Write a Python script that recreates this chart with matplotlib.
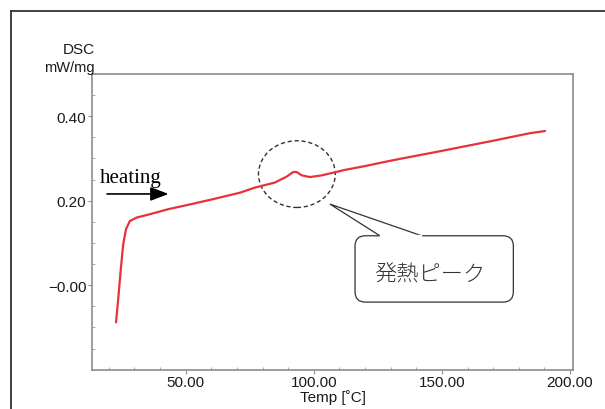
import matplotlib.pyplot as plt
from matplotlib.patches import Ellipse, FancyBboxPatch, Polygon
from matplotlib.ticker import MultipleLocator, FixedLocator

# DSC trace (temperature in degC, heat flow in mW/mg)
temp = [22.8, 23.7, 24.6, 25.6, 26.7, 28.2, 30.8, 36.0, 43.2, 50.0, 59.5, 71.2, 77.0, 84.8,
        89.4, 92.0, 93.3, 95.3, 98.5, 103.1, 112.2, 120.0, 131.0, 150.0, 170.0, 184.5, 190.3]
dsc = [-0.088, -0.029, 0.034, 0.097, 0.133, 0.152, 0.160, 0.168, 0.180, 0.189, 0.202, 0.219,
       0.231, 0.243, 0.257, 0.268, 0.268, 0.260, 0.256, 0.260, 0.273, 0.282, 0.296, 0.318,
       0.342, 0.360, 0.365]

xticks = [50, 100, 150, 200]
xticklabels = ["50.00", "100.00", "150.00", "200.00"]
yticks = [0.0, 0.2, 0.4]
yticklabels = ["\u22120.00", "0.20", "0.40"]

# peak marker and callout
peak_center = (93.4, 0.263)
peak_size = (30.0, 0.158)
note = "発熱ピーク"

fig = plt.figure(figsize=(6.05, 4.10), dpi=100)
ax = fig.add_axes([0.152, 0.0959, 0.7956, 0.7212])

ax.plot(temp, dsc, color="#e8323a", linewidth=1.6, solid_joinstyle="round",
        solid_capstyle="round")

ax.set_xlim(13.4, 201.3)
ax.set_ylim(-0.2, 0.5)

for s in ax.spines.values():
    s.set_color("#8c8c8c")
    s.set_linewidth(1.2)

ax.xaxis.set_major_locator(FixedLocator(xticks))
ax.set_xticklabels(xticklabels)
ax.xaxis.set_minor_locator(MultipleLocator(10))
ax.yaxis.set_major_locator(FixedLocator(yticks))
ax.set_yticklabels(yticklabels)
ax.yaxis.set_minor_locator(MultipleLocator(0.05))

ax.tick_params(which="major", direction="out", length=3, color="#8c8c8c",
               labelsize=11, labelcolor="#1a1a1a", pad=1)
ax.tick_params(which="minor", direction="in", length=2, color="#9c9c9c")
for lab in ax.get_xticklabels() + ax.get_yticklabels():
    lab.set_family("Liberation Sans")

ax.set_xlabel("Temp [\u02daC]", fontsize=11, family="Liberation Sans",
              color="#1a1a1a", labelpad=0)

# y-axis title placed above the axis
fig.text(0.157, 0.878, "DSC", ha="right", va="center", fontsize=11,
         family="Liberation Sans", color="#1a1a1a")
fig.text(0.157, 0.834, "mW/mg", ha="right", va="center", fontsize=10.5,
         family="Liberation Sans", color="#1a1a1a")

# heating direction arrow
ax.text(16.5, 0.245, "heating", fontsize=15, family="Liberation Serif",
        color="black", va="baseline")
ax.annotate("", xy=(43.3, 0.216), xytext=(19.3, 0.216),
            arrowprops=dict(arrowstyle="-|>,head_length=1.1,head_width=0.42",
                            color="black", lw=1.2, shrinkA=0, shrinkB=0))

# dashed circle around the exothermic peak
ax.add_patch(Ellipse(peak_center, peak_size[0], peak_size[1], fill=False,
                     linestyle=(0, (3, 2)), edgecolor="#333333", linewidth=1.0))

# speech bubble with its tail
bx0, bx1, by0, by1 = 116.1, 177.9, -0.040, 0.117
ax.add_patch(Polygon([(106.3, 0.192), (125.8, 0.117), (142.1, 0.117)],
                     closed=True, facecolor="white", edgecolor="#333333",
                     linewidth=0.9, zorder=3))
ax.add_patch(FancyBboxPatch((bx0, by0), bx1 - bx0, by1 - by0,
                            boxstyle="round,pad=0,rounding_size=4",
                            mutation_aspect=0.0061, facecolor="white",
                            edgecolor="#333333", linewidth=0.9, zorder=4))
ax.plot([126.1, 141.8], [0.117, 0.117], color="white", linewidth=1.6, zorder=5)
ax.text(145.5, 0.026, note, ha="center", va="center", fontsize=16,
        family=["Noto Sans CJK JP", "DejaVu Sans"], fontweight="light",
        color="#333333", zorder=6)

# outer border of the sheet
fig.add_artist(plt.Line2D([11 / 605, 11 / 605], [0, 1 - 12 / 410],
                          transform=fig.transFigure, color="#333333", linewidth=1.3))
fig.add_artist(plt.Line2D([11 / 605, 1], [1 - 12 / 410, 1 - 12 / 410],
                          transform=fig.transFigure, color="#333333", linewidth=1.3))

fig.savefig("out.png", dpi=100)
